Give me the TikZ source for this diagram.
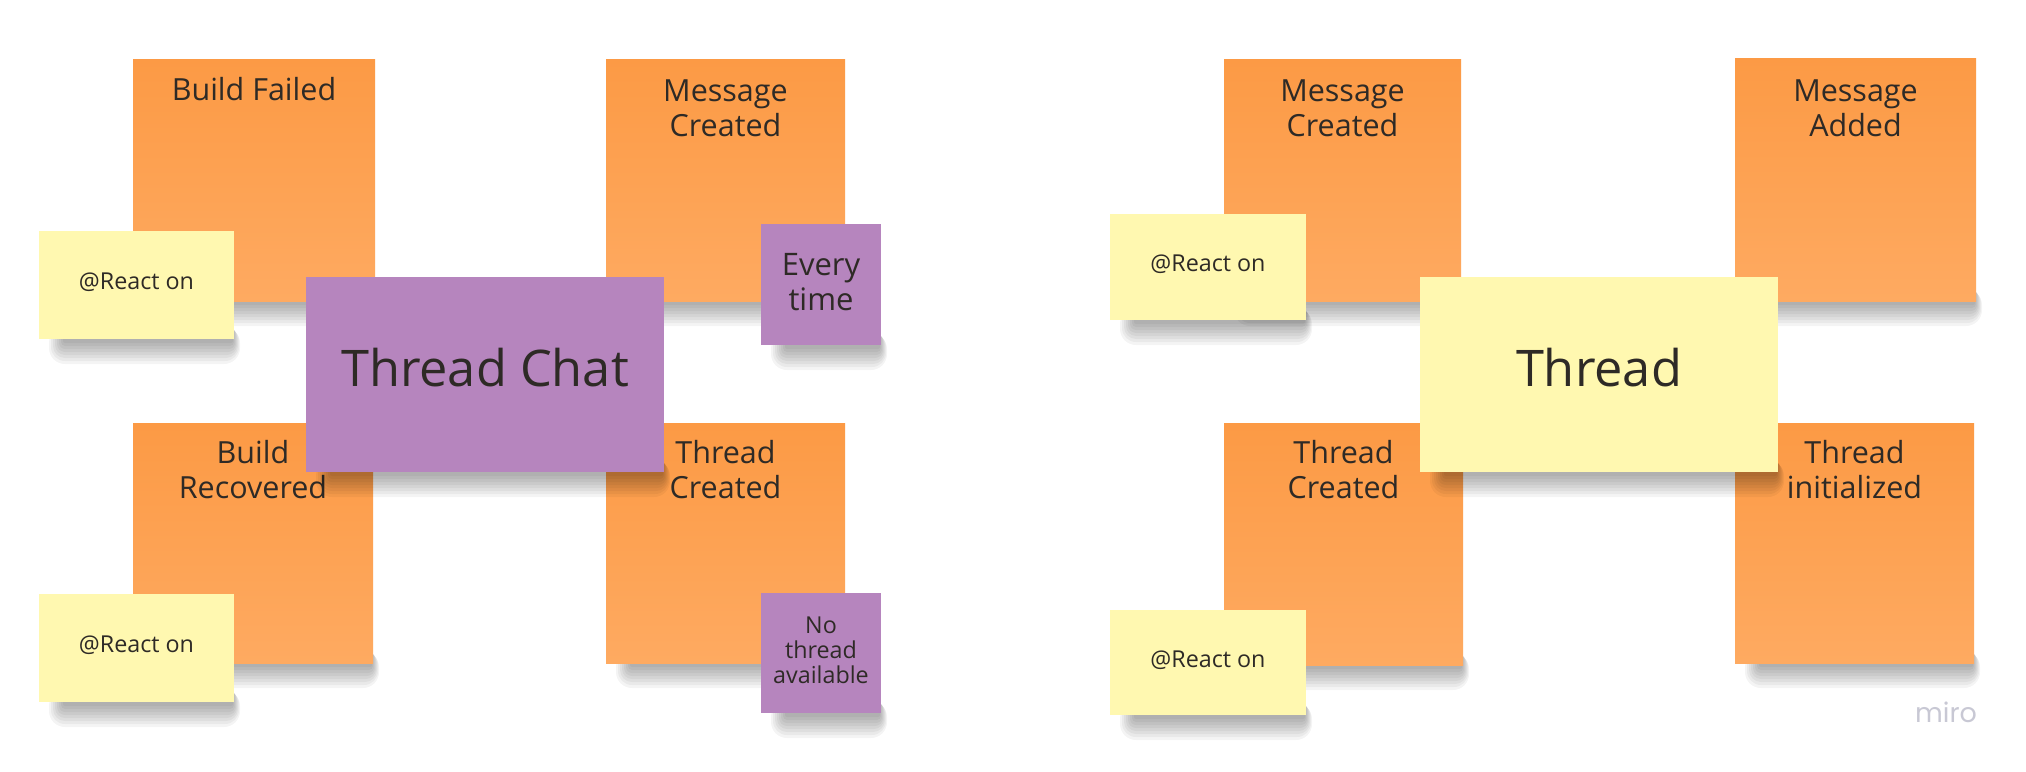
\documentclass[tikz,border=0pt]{standalone}
\usepackage{fontspec}
\setmainfont{Open Sans}
\newfontfamily\mirofont{Poppins}
\definecolor{orangeTop}{HTML}{FC9A45}
\definecolor{orangeBot}{HTML}{FEAA61}
\definecolor{stickyYellow}{HTML}{FFF8B0}
\definecolor{stickyPurple}{HTML}{B685BE}
\definecolor{ink}{HTML}{2E2A26}
\definecolor{miroGray}{HTML}{C8C8D4}
\tikzset{
  note/.style={rectangle, anchor=north west, inner sep=0pt, outer sep=0pt, draw=none},
  orangenote/.style={note, top color=orangeTop, bottom color=orangeBot},
  yellownote/.style={note, fill=stickyYellow},
  purplenote/.style={note, fill=stickyPurple},
  titletext/.style={anchor=base, align=center, font=\fontsize{30.5}{35}\selectfont, text=ink, inner sep=0pt},
  smalltext/.style={anchor=base, align=center, font=\fontsize{23.3}{25}\selectfont, text=ink, inner sep=0pt},
  bigtext/.style={anchor=base, font=\fontsize{50.5}{60}\selectfont, text=ink, inner sep=0pt},
}
\newcommand\sticky[6]{%
  \foreach \i in {1,...,8}{%
    \fill[black, opacity=0.045, rounded corners=\i*2pt] (#3+26-\i*2, #6-12) rectangle (#5-2+\i*1, #6+1+\i*3);
  }%
  \node[#2, minimum width=#5-#3, minimum height=#6-#4] (#1) at (#3,#4) {};
}
\begin{document}
\begin{tikzpicture}[x=1pt, y=-1pt]
\fill[white] (0,0) rectangle (2026,771);
\useasboundingbox (0,0) rectangle (2026,771);
% ---------- left group ----------
\sticky{bf}{orangenote}{133}{59}{375}{301}
\sticky{mca}{orangenote}{606}{59}{845}{301}
\sticky{br}{orangenote}{133}{423}{373}{663}
\sticky{tca}{orangenote}{606}{423}{845}{663}
\node[titletext] (bft) at (254,100) {Build Failed};
\node[titletext] (mcat) at (725.5,136) {Message\\Created};
\node[titletext] (brt) at (253,498) {Build\\Recovered};
\node[titletext] (tcat) at (725.5,498) {Thread\\Created};
\sticky{tchat}{purplenote}{306}{277}{664}{472}
\node[bigtext] (tchatt) at (485,386) {Thread Chat};
\sticky{roa}{yellownote}{39}{231}{234}{339}
\node[smalltext] (roat) at (136.5,289) {@React on};
\sticky{rob}{yellownote}{39}{594}{234}{702}
\node[smalltext] (robt) at (136.5,652) {@React on};
\sticky{every}{purplenote}{761}{224}{881}{345}
\node[titletext, font=\fontsize{31}{35}\selectfont] (everyt) at (821,310) {Every\\time};
\sticky{nothr}{purplenote}{761}{593}{881}{713}
\node[smalltext] (nothrt) at (821,683) {No\\thread\\available};
% ---------- right group ----------
\sticky{mcb}{orangenote}{1224}{59}{1461}{301}
\sticky{ma}{orangenote}{1735}{58}{1976}{301}
\sticky{tcb}{orangenote}{1224}{423}{1463}{665}
\sticky{ti}{orangenote}{1735}{423}{1974}{663}
\node[titletext] (mcbt) at (1342.5,136) {Message\\Created};
\node[titletext] (mat) at (1855.5,136) {Message\\Added};
\node[titletext] (tcbt) at (1343.5,498) {Thread\\Created};
\node[titletext] (tit) at (1854.5,498) {Thread\\initialized};
\sticky{thread}{yellownote}{1420}{277}{1778}{472}
\node[bigtext] (threadt) at (1599,386) {Thread};
\sticky{roc}{yellownote}{1110}{214}{1306}{320}
\node[smalltext] (roct) at (1208,271) {@React on};
\sticky{rod}{yellownote}{1110}{610}{1306}{715}
\node[smalltext] (rodt) at (1208,667) {@React on};
\node[anchor=base, font=\mirofont\fontsize{27}{30}\selectfont, text=miroGray, inner sep=0pt] (miro) at (1946,722) {miro};
\end{tikzpicture}
\end{document}
